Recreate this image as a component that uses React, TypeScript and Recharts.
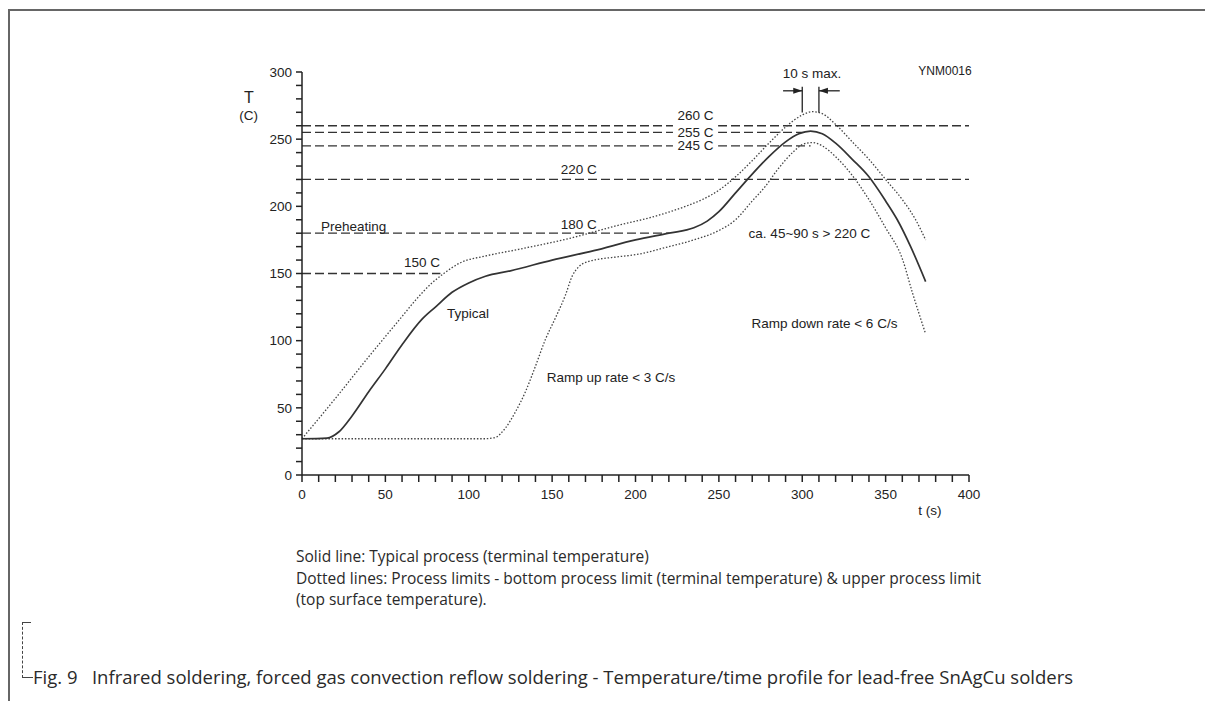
import React from 'react';
import {
  ComposedChart,
  Line,
  XAxis,
  YAxis,
  ReferenceLine,
  ReferenceDot,
} from 'recharts';

// solid line: typical process
const typicalTime = [0, 15, 22, 30, 40, 50, 60, 72, 80, 90, 100, 110, 125, 150, 175, 200, 220, 235, 243, 250, 260, 270, 280, 290, 298, 305, 312, 320, 330, 340, 350, 357, 365, 374];
const typicalTemp = [27, 27.5, 32, 44, 62, 79, 97, 116, 125, 136, 143, 148, 152, 160, 167, 175, 180, 184, 189, 196, 210, 224, 237, 248, 254, 256, 254, 247, 235, 222, 204, 190, 170, 144];

// dotted: upper process limit
const upperTime = [0, 20, 40, 60, 68, 78, 85, 95, 110, 130, 160, 190, 210, 230, 240, 250, 260, 270, 280, 290, 300, 306, 312, 320, 330, 340, 350, 360, 368, 374];
const upperTemp = [27, 57, 88, 118, 130, 143, 150, 158, 163, 168, 176, 186, 192, 200, 205, 212, 222, 234, 247, 259, 268, 270.5, 269, 261, 248, 235, 220, 205, 190, 175];

// dotted: bottom process limit
const lowerTime = [0, 50, 100, 110, 116, 122, 128, 134, 140, 146, 152, 158, 162, 166, 172, 190, 200, 220, 235, 250, 260, 270, 278, 285, 295, 300, 306, 312, 320, 330, 340, 350, 360, 366, 374];
const lowerTemp = [27, 27, 27, 27, 28, 35, 47, 62, 81, 101, 117, 134, 148, 155, 159, 162.5, 164, 170, 175, 182, 190, 204, 215, 227, 241, 246, 247.5, 245, 237, 223, 205, 184, 161, 136, 105];

const xLabels = [0, 50, 100, 150, 200, 250, 300, 350, 400];
const xTicks = [0, 10, 20, 30, 40, 50, 60, 70, 80, 90, 100, 110, 120, 130, 140, 150, 160, 170, 180, 190, 200, 210, 220, 230, 240, 250, 260, 270, 280, 290, 300, 310, 320, 330, 340, 350, 360, 370, 380, 390, 400];
const yLabels = [0, 50, 100, 150, 200, 250, 300];
const yTicks = [0, 10, 20, 30, 40, 50, 60, 70, 80, 90, 100, 110, 120, 130, 140, 150, 160, 170, 180, 190, 200, 210, 220, 230, 240, 250, 260, 270, 280, 290, 300];

// dashed temperature levels and where each one stops
const levelTemps = [260, 255, 245, 220, 180, 150];
const levelEnds = [400, 303, 305, 400, 220, 83];

const notes = [
  { t: 236, T: 268, text: '260 C', bg: true },
  { t: 236, T: 255.6, text: '255 C', bg: true },
  { t: 236, T: 245.5, text: '245 C', bg: true },
  { t: 166, T: 227.8, text: '220 C' },
  { t: 166, T: 186.9, text: '180 C' },
  { t: 72, T: 158.8, text: '150 C' },
  { t: 31, T: 185.4, text: 'Preheating' },
  { t: 99.6, T: 120.8, text: 'Typical' },
  { t: 185.3, T: 73.2, text: 'Ramp up rate < 3 C/s' },
  { t: 313.3, T: 113.4, text: 'Ramp down rate < 6 C/s' },
  { t: 304.3, T: 180.4, text: 'ca. 45~90 s > 220 C' },
  { t: 305.8, T: 299.3, text: '10 s max.' },
  { t: 385.6, T: 300.8, text: 'YNM0016', size: 12 },
  { t: -31.8, T: 281.5, text: 'T', size: 16 },
  { t: -32, T: 268, text: '(C)' },
  { t: 376.6, T: -26, text: 't (s)' },
];

const FONT = '"Liberation Sans", Arial, sans-serif';
const TEXT_FONT = '"Open Sans", Lato, sans-serif';
const INK = '#222';

const toPoints = (time: number[], temp: number[]) =>
  time.map((t, i) => ({ t, T: temp[i] }));

const Note = (props: any) => {
  const { cx, cy, text, size = 13.5, bg } = props;
  const w = text.length * size * 0.58;
  return (
    <g>
      {bg && (
        <rect x={cx - w / 2 - 3} y={cy - size * 0.55} width={w + 6} height={size * 1.1} fill="#fff" />
      )}
      <text x={cx} y={cy} dy="0.36em" textAnchor="middle" fontSize={size} fontFamily={FONT} fill={INK}>
        {text}
      </text>
    </g>
  );
};

const Arrowhead = (props: any) => {
  const { cx, cy, dir } = props;
  const s = dir === 'right' ? 1 : -1;
  return (
    <polygon
      points={`${cx},${cy} ${cx - s * 9},${cy - 3} ${cx - s * 9},${cy + 3}`}
      fill={INK}
    />
  );
};

export default function App() {
  const typical = toPoints(typicalTime, typicalTemp);
  const upper = toPoints(upperTime, upperTemp);
  const lower = toPoints(lowerTime, lowerTemp);

  return (
    <div
      style={{
        position: 'absolute',
        left: 0,
        top: 0,
        width: 1205,
        height: 701,
        background: '#fff',
        overflow: 'hidden',
      }}
    >
      {/* page frame */}
      <div style={{ position: 'absolute', left: 8, top: 9, width: 1197, height: 2, background: '#666' }} />
      <div style={{ position: 'absolute', left: 8, top: 9, width: 2, height: 692, background: '#666' }} />

      <div style={{ position: 'absolute', left: 0, top: 0 }}>
        <ComposedChart
          width={1205}
          height={540}
          margin={{ top: 72, right: 236, bottom: 35, left: 262 }}
        >
          <XAxis
            type="number"
            dataKey="t"
            domain={[0, 400]}
            ticks={xTicks}
            interval={0}
            tickFormatter={(v: number) => (xLabels.includes(v) ? String(v) : '')}
            height={30}
            tickSize={7}
            tickMargin={7}
            stroke={INK}
            strokeWidth={1.5}
            tick={{ fill: INK, fontSize: 13.5, fontFamily: FONT }}
          />
          <YAxis
            type="number"
            domain={[0, 300]}
            ticks={yTicks}
            interval={0}
            tickFormatter={(v: number) => (yLabels.includes(v) ? String(v) : '')}
            width={40}
            tickSize={6}
            tickMargin={4}
            stroke={INK}
            strokeWidth={1.5}
            tick={{ fill: INK, fontSize: 13.5, fontFamily: FONT }}
          />

          {levelTemps.map((T, i) => (
            <ReferenceLine
              key={'lv' + T}
              segment={[{ x: 0, y: T }, { x: levelEnds[i], y: T }]}
              stroke="#333"
              strokeWidth={1.3}
              strokeDasharray="9 4"
            />
          ))}

          <Line
            data={upper}
            dataKey="T"
            type="monotone"
            stroke="#444"
            strokeWidth={1.3}
            strokeDasharray="1.5 1.8"
            dot={false}
            isAnimationActive={false}
          />
          <Line
            data={lower}
            dataKey="T"
            type="monotone"
            stroke="#444"
            strokeWidth={1.3}
            strokeDasharray="1.5 1.8"
            dot={false}
            isAnimationActive={false}
          />
          <Line
            data={typical}
            dataKey="T"
            type="monotone"
            stroke="#333"
            strokeWidth={1.7}
            dot={false}
            isAnimationActive={false}
          />

          {/* 10 s max. marker */}
          <ReferenceLine segment={[{ x: 300, y: 269.8 }, { x: 300, y: 289 }]} stroke={INK} strokeWidth={1.3} />
          <ReferenceLine segment={[{ x: 310, y: 269.8 }, { x: 310, y: 289 }]} stroke={INK} strokeWidth={1.3} />
          <ReferenceLine segment={[{ x: 288.5, y: 286 }, { x: 300, y: 286 }]} stroke={INK} strokeWidth={1.3} />
          <ReferenceLine segment={[{ x: 310, y: 286 }, { x: 322.5, y: 286 }]} stroke={INK} strokeWidth={1.3} />
          <ReferenceDot x={300} y={286} r={0} shape={(p: any) => <Arrowhead {...p} dir="right" />} />
          <ReferenceDot x={310} y={286} r={0} shape={(p: any) => <Arrowhead {...p} dir="left" />} />

          {notes.map((n) => (
            <ReferenceDot
              key={n.text}
              x={n.t}
              y={n.T}
              r={0}
              ifOverflow="visible"
              shape={(p: any) => <Note {...p} text={n.text} size={n.size} bg={n.bg} />}
            />
          ))}
        </ComposedChart>
      </div>

      <div
        style={{
          position: 'absolute',
          left: 296,
          top: 546,
          fontFamily: TEXT_FONT,
          fontSize: 15.5,
          lineHeight: '21.5px',
          color: '#2a2a2a',
          whiteSpace: 'nowrap',
        }}
      >
        <div>Solid line: Typical process (terminal temperature)</div>
        <div>
          Dotted lines: Process limits - bottom process limit (terminal temperature) &amp; upper process limit
        </div>
        <div>(top surface temperature).</div>
      </div>

      {/* figure bracket */}
      <div
        style={{
          position: 'absolute',
          left: 22,
          top: 622,
          width: 8,
          height: 55,
          borderLeft: '1px dashed #444',
          borderTop: '1px solid #444',
        }}
      />
      <div style={{ position: 'absolute', left: 22, top: 677, width: 11, height: 1, background: '#444' }} />
      <div
        style={{
          position: 'absolute',
          left: 33,
          top: 665,
          fontFamily: TEXT_FONT,
          fontSize: 18.5,
          lineHeight: '24px',
          color: '#2a2a2a',
          whiteSpace: 'pre',
        }}
      >
        {'Fig. 9   Infrared soldering, forced gas convection reflow soldering - Temperature/time profile for lead-free SnAgCu solders'}
      </div>
    </div>
  );
}
